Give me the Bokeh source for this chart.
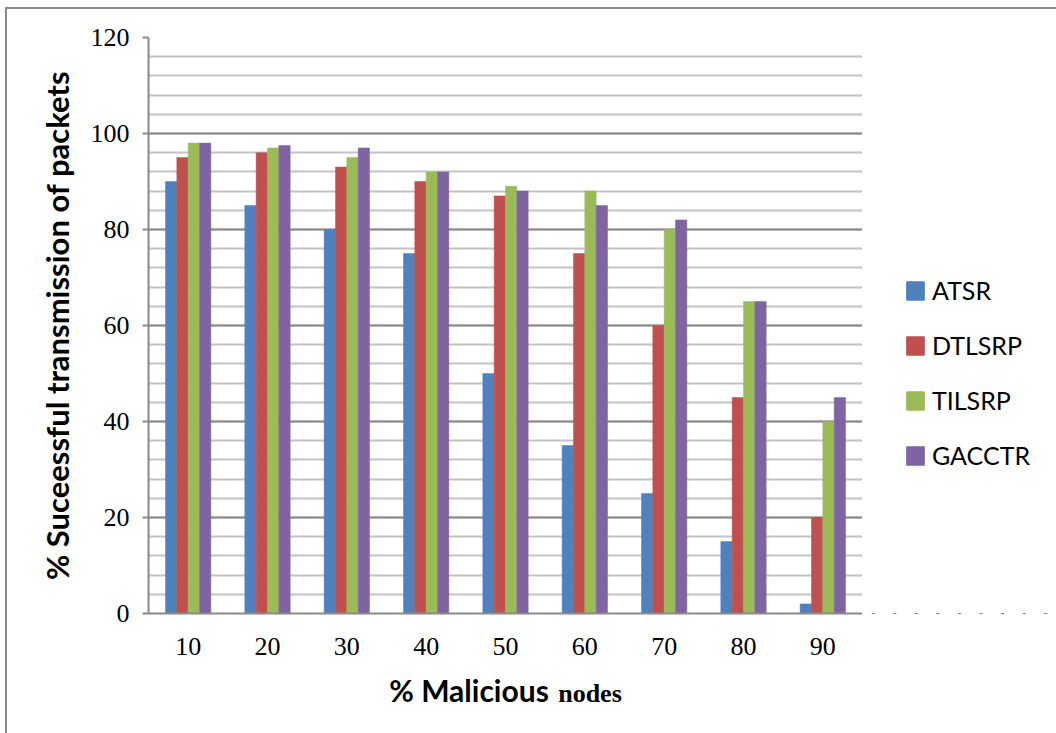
from bokeh.plotting import figure
from bokeh.layouts import row
from bokeh.models import (FactorRange, Range1d, SingleIntervalTicker, ColumnDataSource,
                          Legend, LegendItem, CategoricalAxis)
from bokeh.transform import dodge
from bokeh.embed import file_html
from bokeh.resources import INLINE

# Percentage of malicious nodes (categories on the x axis)
categories = ["10", "20", "30", "40", "50", "60", "70", "80", "90"]

# Successful packet transmission (%) for each routing scheme
atsr = [90, 85, 80, 75, 50, 35, 25, 15, 2]
dtlsrp = [95, 96, 93, 90, 87, 75, 60, 45, 20]
tilsrp = [98, 97, 95, 92, 89, 88, 80, 65, 40]
gacctr = [98, 97.5, 97, 92, 88, 85, 82, 65, 45]

series_names = ["ATSR", "DTLSRP", "TILSRP", "GACCTR"]
series_colors = ["#4F81BD", "#C0504D", "#9BBB59", "#8064A2"]

src = ColumnDataSource(dict(cat=categories, ATSR=atsr, DTLSRP=dtlsrp,
                            TILSRP=tilsrp, GACCTR=gacctr))

# page frame: margin + border drawn around the chart
MX, MY, BW = 5, 7, 2
OX, OY = MX + BW, MY + BW
H = 733 - OY
FL, FR, FT, FB = 148 - OX, 862 - OX, 37 - OY, 613 - OY
W_LEG = 1056 - OX - FR

p = figure(width=FR, height=H, output_backend="svg", toolbar_location=None,
           x_range=FactorRange(factors=categories), y_range=Range1d(0, 120),
           min_border_left=FL, min_border_right=0,
           min_border_top=FT, min_border_bottom=H - FB,
           background_fill_color="white", border_fill_color="white")
p.outline_line_color = None

bar_w = 0.143
offsets = [-1.5 * bar_w, -0.5 * bar_w, 0.5 * bar_w, 1.5 * bar_w]
for name, color, off in zip(series_names, series_colors, offsets):
    p.vbar(x=dodge("cat", off, range=p.x_range), top=name, width=bar_w,
           source=src, fill_color=color, line_color=color, line_width=0.5)

# y axis and grid
ticker = SingleIntervalTicker(interval=20, num_minor_ticks=5)
p.yaxis.ticker = ticker
p.ygrid.ticker = ticker
p.ygrid.grid_line_color = "#8a8a8a"
p.ygrid.grid_line_width = 2
p.ygrid.minor_grid_line_color = "#c3c3c3"
p.ygrid.minor_grid_line_width = 2
p.xgrid.grid_line_color = None

axis_color = "#8a8a8a"
for ax in (p.xaxis[0], p.yaxis[0]):
    ax.axis_line_color = axis_color
    ax.axis_line_width = 2
    ax.major_label_text_font = "Liberation Serif"
    ax.major_label_text_font_size = "26px"
    ax.major_label_text_color = "black"
    ax.minor_tick_line_color = None

p.yaxis.major_tick_line_color = axis_color
p.yaxis.major_tick_line_width = 2
p.yaxis.major_tick_in = 0
p.yaxis.major_tick_out = 6
p.yaxis.major_label_standoff = 13
p.yaxis.axis_label = "% Suceessful transmission of packets"
p.yaxis.axis_label_text_font = "Lato"
p.yaxis.axis_label_text_font_style = "bold"
p.yaxis.axis_label_text_font_size = "31px"
p.yaxis.axis_label_text_color = "black"
p.yaxis.axis_label_standoff = 12

# x axis: the title is split into a sans part and a serif part
NB = "\u00a0"
xa = p.xaxis[0]
xa.major_tick_line_color = None
xa.major_label_standoff = 18
xa.axis_label = "% Malicious" + NB * 10 + "\u200b"
xa.axis_label_text_font = "Lato"
xa.axis_label_text_font_style = "bold"
xa.axis_label_text_font_size = "30px"
xa.axis_label_text_color = "black"
xa.axis_label_standoff = 14

xa2 = CategoricalAxis(axis_line_color=None, major_tick_line_color=None,
                      minor_tick_line_color=None, major_label_text_font_size="0px",
                      major_label_standoff=0, axis_label=NB * 26 + "nodes",
                      axis_label_text_font="Liberation Serif",
                      axis_label_text_font_style="bold",
                      axis_label_text_font_size="26px", axis_label_text_color="black",
                      axis_label_standoff=-38)
p.add_layout(xa2, "below")

# legend panel to the right of the plot area; its bars lie outside the
# visible y range, so only the legend swatches show
leg = figure(width=W_LEG, height=H, output_backend="svg", toolbar_location=None,
             x_range=FactorRange(factors=categories), y_range=Range1d(1000, 1001),
             x_axis_location=None, y_axis_location=None,
             min_border=0, background_fill_color="white", border_fill_color="white")
leg.outline_line_color = None
leg.grid.visible = False
items = []
for name, color in zip(series_names, series_colors):
    r = leg.vbar(x="cat", top=name, width=0.1, source=src,
                 fill_color=color, line_color=color)
    items.append(LegendItem(label=name, renderers=[r]))

legend = Legend(items=items, location=(42, 143), glyph_width=22, glyph_height=23,
                spacing=25, padding=0, margin=0, label_standoff=6,
                label_text_font="Lato", label_text_font_size="25px",
                label_text_color="black",
                border_line_color=None, background_fill_alpha=0)
leg.add_layout(legend, "center")

layout = row(p, leg, spacing=0,
             styles={"margin-left": f"{MX}px", "margin-top": f"{MY}px",
                     "border-left": f"{BW}px solid #8a8a8a",
                     "border-top": f"{BW}px solid #8a8a8a"})

open("out.html", "w").write(file_html(layout, INLINE))
